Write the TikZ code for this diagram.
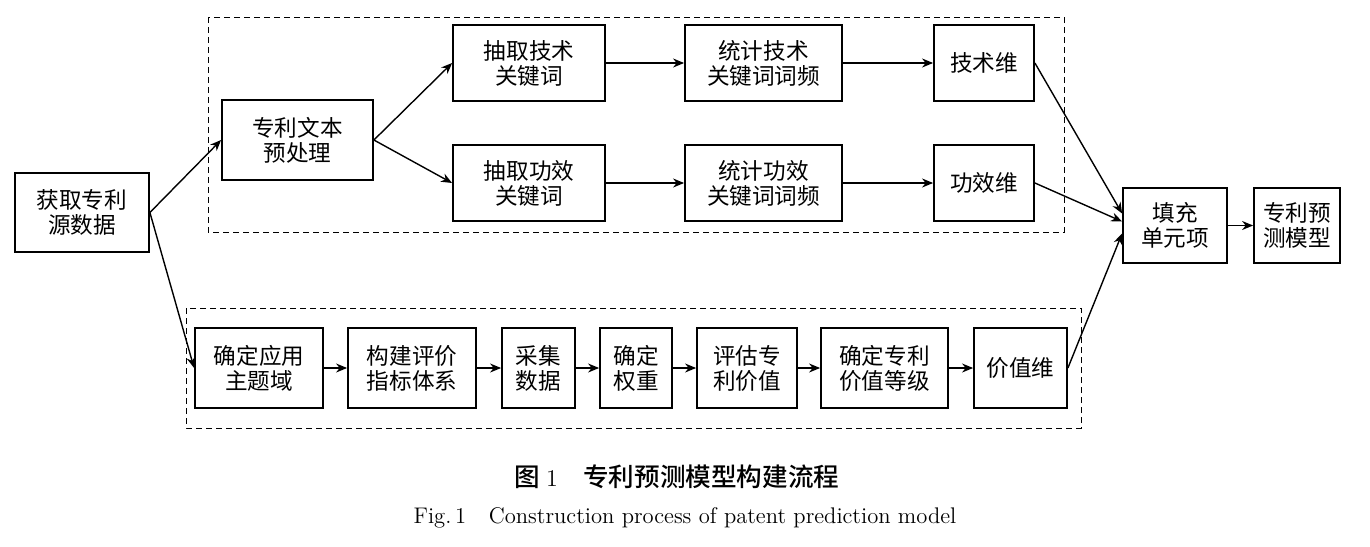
\documentclass[tikz,border=0pt]{standalone}
\usepackage{fontspec}
\newfontfamily\cjk{Noto Sans CJK SC}
\newfontfamily\cjkm{Noto Sans CJK SC Medium}
\usepackage{tikz}
\usetikzlibrary{arrows.meta}
\usetikzlibrary{positioning}
\tikzstyle{box}=[rectangle,draw,line width=0.9pt,align=center,inner sep=0pt,font=\cjk\fontsize{11.3}{12.5}\selectfont]
\tikzstyle{edge} = [draw,line width=0.7pt,-{Stealth[length=5.5pt,width=4.5pt]}]
\tikzstyle{group} = [draw,line width=0.5pt,dash pattern=on 3pt off 2pt]
\tikzstyle{caption} = [font=\cjkm\fontsize{12.8}{14}\selectfont]

\begin{document}
\begin{tikzpicture}[x=0.5pt,y=-0.5pt]

  \useasboundingbox (0,0) rectangle (1370,546);

  % the two dashed groups
  \path[group] (208,17) rectangle (1064,232);
  \path[group] (186,308) rectangle (1081,428);

   \foreach \x/\y/\w/\h/\name/\label in {82/212.5/134/79/src/{获取专利\\源数据}, 297.5/140/151/80/pre/{专利文本\\预处理}, 1175/225.5/104/75/fill/{填充\\单元项}, 1297/225.5/86/75/model/{专利预\\测模型}}
          \node[box,minimum width=\w*0.5pt,minimum height=\h*0.5pt] (\name) at (\x,\y) {\label};

   \foreach \x/\y/\w/\name/\label in {529/63/152/t1/{抽取技术\\关键词}, 763.5/63/157/t2/{统计技术\\关键词词频}, 984/63/100/t3/{技术维}, 529/183/152/e1/{抽取功效\\关键词}, 763.5/183/157/e2/{统计功效\\关键词词频}, 984/183/100/e3/{功效维}}
          \node[box,minimum width=\w*0.5pt,minimum height=38pt] (\name) at (\x,\y) {\label};

   \foreach \x/\w/\name/\label in {259/128/b1/{确定应用\\主题域}, 412/128/b2/{构建评价\\指标体系}, 538.5/73/b3/{采集\\数据}, 636/72/b4/{确定\\权重}, 747/100/b5/{评估专\\利价值}, 884.5/127/b6/{确定专利\\价值等级}, 1020.5/93/b7/{价值维}}
          \node[box,minimum width=\w*0.5pt,minimum height=40pt] (\name) at (\x,368) {\label};

  \foreach \source/ \dest in {src/pre, src/b1, pre/t1, pre/e1, t1/t2, t2/t3, e1/e2, e2/e3, fill/model}
         \path[edge] (\source.east) -- (\dest.west);

  \foreach \source/ \dest in {b1/b2, b2/b3, b3/b4, b4/b5, b5/b6, b6/b7}
         \path[edge] (\source.east) -- (\dest.west);

  \path[edge] (t3.east) -- ([yshift=6pt]fill.west);
  \path[edge] (e3.east) -- ([yshift=2pt]fill.west);
  \path[edge] (b7.east) -- ([yshift=-4pt]fill.west);

  % caption
  \node[caption] (capcn) at (677,477) {图\ {\normalfont\fontsize{12}{14}\selectfont 1}\quad 专利预测模型构建流程};
  \node[font=\fontsize{11.3}{13}\selectfont] (capen) at (685,518) {Fig.\,1\quad Construction process of patent prediction model};

\end{tikzpicture}
\end{document}
